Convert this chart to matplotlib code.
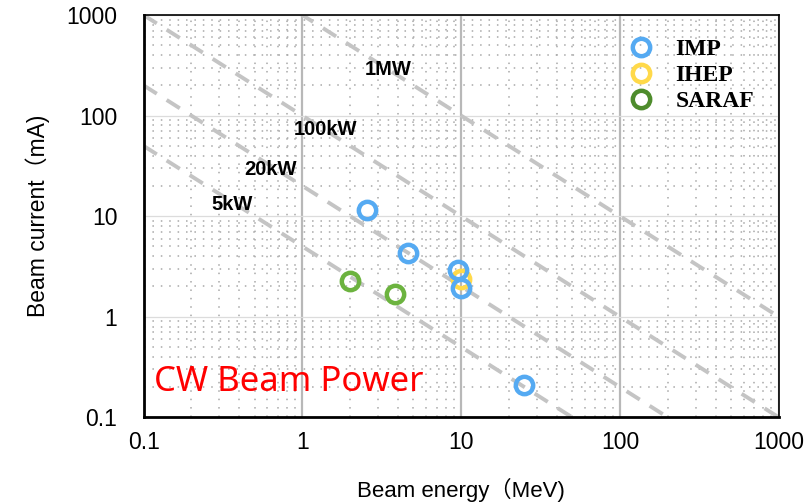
import numpy as np
import matplotlib
matplotlib.use('Agg')
import matplotlib.pyplot as plt
from matplotlib.lines import Line2D

plt.rcParams['font.family'] = ['Liberation Sans', 'Noto Sans CJK JP']

# data
imp_energy = [2.55, 4.6, 9.6, 10.0, 25.0]
imp_current = [11.5, 4.3, 2.9, 1.95, 0.21]
ihep_energy = [10.0]
ihep_current = [2.35]
saraf_energy = [2.0, 3.85]
saraf_current = [2.25, 1.68]

power_kw = [5, 20, 100, 1000]
power_labels = ["5kW", "20kW", "100kW", "1MW"]
label_pos = [(0.36, 13.0), (0.63, 29.0), (1.40, 73.0), (3.45, 285.0)]

fig = plt.figure(figsize=(8.07, 5.04), dpi=100)
ax = fig.add_axes([0.178, 0.172, 0.787, 0.798])
ax.set_xscale('log')
ax.set_yscale('log')
ax.set_xlim(0.1, 1000)
ax.set_ylim(0.1, 1000)

# grid
ax.grid(True, which='minor', color='#a8a8a8', linestyle=(0, (1, 4.5)), linewidth=1.1)
ax.xaxis.grid(True, which='major', color='#b8b8b8', linestyle='-', linewidth=1.6)
ax.yaxis.grid(True, which='major', color='#dcdcdc', linestyle='-', linewidth=0.9)
ax.set_axisbelow(True)

# constant power lines: E[MeV] * I[mA] = P[kW]
e = np.logspace(-1, 3, 200)
for p in power_kw:
    ax.plot(e, p / e, color='#c4c4c4', linewidth=2.8, linestyle=(0, (4, 3)), zorder=2)
for txt, (x, y) in zip(power_labels, label_pos):
    ax.text(x, y, txt, fontsize=14.5, fontweight='bold', ha='center', va='center', zorder=3)

ms = 12.5
mew = 3.2
ax.plot(ihep_energy, ihep_current, 'o', mfc='none', mec='#ffd94a', ms=ms, mew=mew, zorder=4)
ax.plot(saraf_energy, saraf_current, 'o', mfc='none', mec='#6cb33f', ms=ms, mew=mew, zorder=4)
ax.plot(imp_energy, imp_current, 'o', mfc='none', mec='#55aaf2', ms=ms, mew=mew, zorder=5)

handles = [
    Line2D([], [], marker='o', ls='none', mfc='none', mec='#55aaf2', ms=ms, mew=mew),
    Line2D([], [], marker='o', ls='none', mfc='none', mec='#ffd94a', ms=ms, mew=mew),
    Line2D([], [], marker='o', ls='none', mfc='none', mec='#4e8c2c', ms=ms, mew=mew),
]
leg = ax.legend(handles, ["IMP", "IHEP", "SARAF"], loc='upper right',
                bbox_to_anchor=(0.995, 0.995), frameon=False, handletextpad=0.45,
                labelspacing=0.2, prop={'family': 'Liberation Serif', 'weight': 'bold', 'size': 17})

ax.text(0.017, 0.089, "CW Beam Power", transform=ax.transAxes, color='#ff0000',
        fontsize=25, family='Noto Sans', ha='left', va='center', zorder=6)

ax.set_xticks([0.1, 1, 10, 100, 1000])
ax.set_xticklabels(["0.1", "1", "10", "100", "1000"])
ax.set_yticks([0.1, 1, 10, 100, 1000])
ax.set_yticklabels(["0.1", "1", "10", "100", "1000"])
ax.tick_params(which='both', length=0, labelsize=16.5)
ax.tick_params(axis='x', pad=10)
ax.tick_params(axis='y', pad=19)

ax.set_xlabel("Beam energy（MeV)", fontsize=16, labelpad=17)
ax.set_ylabel("Beam current（mA)", fontsize=16.5, labelpad=12)

for side in ['left', 'bottom']:
    ax.spines[side].set_linewidth(2.0)
for side in ['top', 'right']:
    ax.spines[side].set_linewidth(1.2)

fig.savefig('out.png', dpi=100)
